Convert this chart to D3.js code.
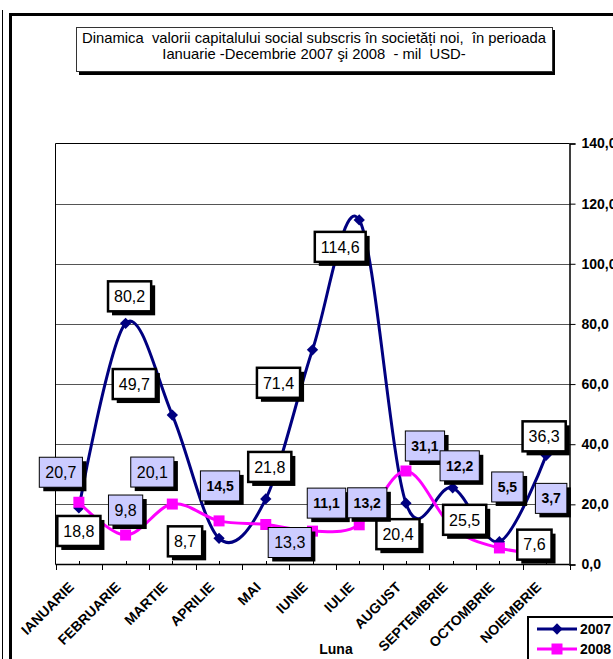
<!DOCTYPE html>
<html>
<head>
<meta charset="utf-8">
<script src="https://cdn.jsdelivr.net/npm/d3@7"></script>
<style>
	body { margin: 0; background: #fff; }
	svg { display: block; font-family: "Liberation Sans", Arial, sans-serif; }
	.title { white-space: pre; }
</style>
</head>
<body>
<svg id="chart" width="613" height="659"></svg>
<script>

var months = ["IANUARIE", "FEBRUARIE", "MARTIE", "APRILIE", "MAI", "IUNIE",
	"IULIE", "AUGUST", "SEPTEMBRIE", "OCTOMBRIE", "NOIEMBRIE"];
var values2007 = [18.8, 80.2, 49.7, 8.7, 21.8, 71.4, 114.6, 20.4, 25.5, 7.6, 36.3];
var values2008 = [20.7, 9.8, 20.1, 14.5, 13.3, 11.1, 13.2, 31.1, 12.2, 5.5, 3.7];
var yTicks = [0, 20, 40, 60, 80, 100, 120, 140];
var seriesNames = ["2007", "2008"];
var titleLines = ["Dinamica  valorii capitalului social subscris în societăți noi,  în perioada",
	"Ianuarie -Decembrie 2007 şi 2008  - mil  USD-"];
var axisTitle = "Luna";

// where each data label box sits, relative to its point (px)
var labelOff2007 = [[0, 23], [4, -27], [-38, -31], [-34, 3], [4, -32], [-34, 33],
	[-19, 27], [-8, 31], [12, 32], [35, 3], [-2, -19]];
var labelOff2008 = [[-18, -30], [0, -25], [-20, -32], [1, -35], [24, 18], [14, -28],
	[8, -22], [19, -25], [7, -62], [8, -61], [5, -55]];
var bold2008 = [false, false, false, true, false, true, true, true, true, true, true];

var svg = d3.select("#chart");
var fmt = d3.formatLocale({decimal: ",", thousands: ".", grouping: [3], currency: ["", ""]}).format(".1f");

var x = d3.scaleBand().domain(months).range([55.5, 569.5]).padding(0);
var y = d3.scaleLinear().domain([0, 140]).range([564.5, 143.5]);
var cx = function(d, i) { return x(months[i]) + x.bandwidth() / 2; };

// outer frame (runs off the picture)
svg.append("line").attr("x1", 2.5).attr("x2", 2.5).attr("y1", 10).attr("y2", 659)
	.attr("stroke", "#000").attr("stroke-width", 1);
svg.append("rect").attr("x", 10.5).attr("y", 14.5).attr("width", 640).attr("height", 700)
	.attr("fill", "none").attr("stroke", "#000").attr("stroke-width", 3);

// title box
svg.append("rect").attr("x", 79).attr("y", 30).attr("width", 476).attr("height", 45).attr("fill", "#000");
svg.append("rect").attr("x", 76.5).attr("y", 27.5).attr("width", 476).attr("height", 44)
	.attr("fill", "#fff").attr("stroke", "#333").attr("stroke-width", 1);
svg.append("g").selectAll("text").data(titleLines).enter().append("text")
	.attr("class", "title")
	.attr("x", 314).attr("y", function(d, i) { return 43 + i * 16; })
	.attr("text-anchor", "middle").attr("font-size", 14.8).text(function(d) { return d; });

// grid
svg.append("g").selectAll("line").data(yTicks.slice(1, -1)).enter().append("line")
	.attr("x1", 55.5).attr("x2", 569.5).attr("y1", function(d) { return Math.round(y(d)) + 0.5; })
	.attr("y2", function(d) { return Math.round(y(d)) + 0.5; })
	.attr("stroke", "#555").attr("stroke-width", 1);
svg.append("path").attr("d", "M55.5,564.5V143.5H569.5").attr("fill", "none").attr("stroke", "#000");

// right value axis
var yAxis = svg.append("g").attr("transform", "translate(569.5,0)")
	.call(d3.axisRight(y).tickValues(yTicks).tickSize(6).tickPadding(6).tickFormat(fmt));
yAxis.select(".domain").attr("stroke-width", 1.5);
yAxis.selectAll("text").attr("font-family", null).attr("font-size", 14).attr("font-weight", "bold").attr("fill", "#000");

// bottom category axis
svg.append("line").attr("x1", 55.5).attr("x2", 569.5).attr("y1", 564.5).attr("y2", 564.5)
	.attr("stroke", "#000").attr("stroke-width", 1.5);
var bounds = months.map(function(m) { return x(m); }).concat([x.range()[1]]);
svg.append("g").selectAll("line").data(bounds).enter().append("line")
	.attr("x1", function(d) { return Math.round(d) + 0.5; }).attr("x2", function(d) { return Math.round(d) + 0.5; })
	.attr("y1", 564.5).attr("y2", 570).attr("stroke", "#000");
svg.append("g").selectAll("line").data(months).enter().append("line")
	.attr("x1", function(d, i) { return Math.round(cx(d, i)) + 0.5; })
	.attr("x2", function(d, i) { return Math.round(cx(d, i)) + 0.5; })
	.attr("y1", 561).attr("y2", 564.5).attr("stroke", "#000");
svg.append("g").selectAll("text").data(months).enter().append("text")
	.attr("transform", function(d, i) { return "translate(" + (cx(d, i) - 4) + ",588) rotate(-45)"; })
	.attr("text-anchor", "end").attr("font-size", 14).attr("font-weight", "bold").text(function(d) { return d; });
svg.append("text").attr("x", 336).attr("y", 654).attr("text-anchor", "middle")
	.attr("font-size", 14).attr("font-weight", "bold").text(axisTitle);

// lines
var line = d3.line().x(cx).y(function(d) { return y(d); }).curve(d3.curveCardinal.tension(0));
var diamond = d3.symbol(d3.symbolSquare, 64);
var square = d3.symbol(d3.symbolSquare, 121);

svg.append("path").datum(values2007).attr("d", line).attr("fill", "none")
	.attr("stroke", "#000080").attr("stroke-width", 3);
svg.append("g").selectAll("path").data(values2007).enter().append("path")
	.attr("d", diamond).attr("fill", "#000080")
	.attr("transform", function(d, i) { return "translate(" + cx(d, i) + "," + y(d) + ") rotate(45)"; });

svg.append("path").datum(values2008).attr("d", line).attr("fill", "none")
	.attr("stroke", "#ff00ff").attr("stroke-width", 3);
svg.append("g").selectAll("path").data(values2008).enter().append("path")
	.attr("d", square).attr("fill", "#ff00ff")
	.attr("transform", function(d, i) { return "translate(" + cx(d, i) + "," + y(d) + ")"; });

// data labels
function drawLabels(values, offs, fill, border, boldFlags) {
	var g = svg.append("g").selectAll("g").data(values).enter().append("g")
		.attr("transform", function(d, i) {
			return "translate(" + (cx(d, i) + offs[i][0]) + "," + (y(d) + offs[i][1]) + ")";
		});
	var t = g.append("text").attr("text-anchor", "middle").attr("dy", "0.36em")
		.attr("font-size", function(d, i) { return boldFlags && boldFlags[i] ? 14 : 16; })
		.attr("font-weight", function(d, i) { return boldFlags && boldFlags[i] ? "bold" : null; })
		.text(fmt);
	g.each(function(d, i) {
		var w = t.nodes()[i].getComputedTextLength() + 12, h = 30;
		var gg = d3.select(this);
		gg.insert("rect", "text").attr("x", -w / 2 + 4).attr("y", -h / 2 + 4)
			.attr("width", w).attr("height", h).attr("fill", "#000");
		gg.insert("rect", "text").attr("x", -w / 2).attr("y", -h / 2)
			.attr("width", w).attr("height", h).attr("fill", fill)
			.attr("stroke", "#000").attr("stroke-width", border);
	});
}
drawLabels(values2007, labelOff2007, "#fff", 2.5, null);
drawLabels(values2008, labelOff2008, "#ccccff", 1, bold2008);

// legend (partly off the picture)
svg.append("rect").attr("x", 528).attr("y", 617).attr("width", 120).attr("height", 60)
	.attr("fill", "#fff").attr("stroke", "#000").attr("stroke-width", 2);
var leg = svg.append("g").selectAll("g").data(seriesNames).enter().append("g")
	.attr("transform", function(d, i) { return "translate(0," + (629 + i * 20) + ")"; });
leg.append("line").attr("x1", 537).attr("x2", 577).attr("stroke-width", 3)
	.attr("stroke", function(d, i) { return i ? "#ff00ff" : "#000080"; });
leg.append("path")
	.attr("d", function(d, i) { return i ? square() : diamond(); })
	.attr("transform", function(d, i) { return "translate(557,0)" + (i ? "" : " rotate(45)"); })
	.attr("fill", function(d, i) { return i ? "#ff00ff" : "#000080"; });
leg.append("text").attr("x", 580).attr("dy", "0.36em").attr("font-size", 14).attr("font-weight", "bold")
	.text(function(d) { return d; });

</script>
</body>
</html>
